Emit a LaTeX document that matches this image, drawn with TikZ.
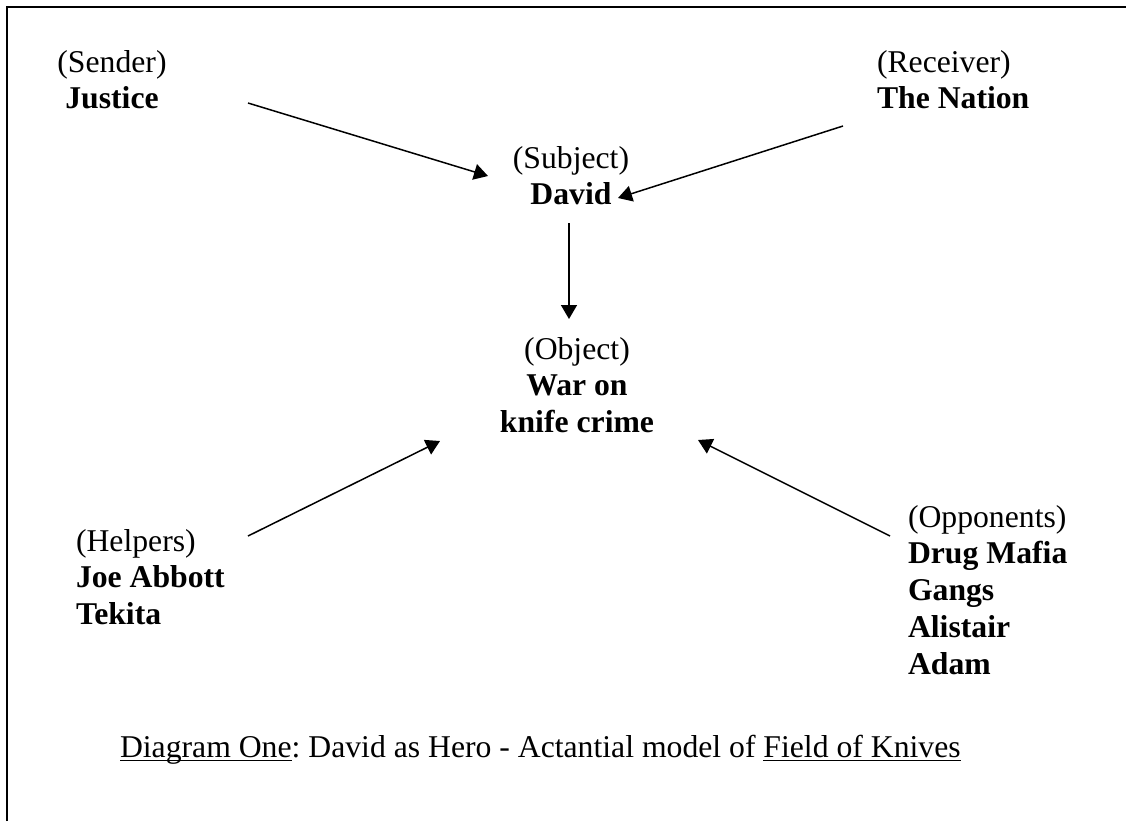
\documentclass[tikz,border=0pt]{standalone}
\usepackage{fontspec}
\setmainfont{Liberation Serif}
\usetikzlibrary{arrows.meta}
\frenchspacing
\newcommand{\blockL}[1]{\begin{tabular}[t]{@{}l@{}}#1\end{tabular}}
\newcommand{\blockC}[1]{\begin{tabular}[t]{@{}c@{}}#1\end{tabular}}
\newcommand{\ulText}[1]{\setbox0\hbox{#1}\rlap{\rule[-2.2pt]{\wd0}{0.9pt}}\box0}
\begin{document}
\begin{tikzpicture}[x=0.5pt,y=-0.5pt,
  txt/.style={inner sep=0pt, outer sep=0pt, font=\fontsize{15.85}{18.4}\selectfont},
  arr/.style={line width=0.75pt, -{Triangle[length=7pt,width=8pt]}}]
\useasboundingbox (0,0) rectangle (1126,821);
\draw[line width=1pt] (7,821) -- (7,6.5) -- (1126,6.5);

\node[txt, anchor=base] (sender) at (112,72) {\blockC{(Sender)\\\textbf{Justice}}};
\node[txt, anchor=base west] (receiver) at (877,72) {\blockL{(Receiver)\\\textbf{The Nation}}};
\node[txt, anchor=base] (subject) at (571,168) {\blockC{(Subject)\\\textbf{David}}};
\node[txt, anchor=base] (object) at (577,359) {\blockC{(Object)\\\textbf{War on}\\\textbf{knife crime}}};
\node[txt, anchor=base west] (helpers) at (76,551) {\blockL{(Helpers)\\\textbf{Joe Abbott}\\\textbf{Tekita}}};
\node[txt, anchor=base west] (opponents) at (908,527) {\blockL{(Opponents)\\\textbf{Drug Mafia}\\\textbf{Gangs}\\\textbf{Alistair}\\\textbf{Adam}}};
\node[txt, anchor=base west] (caption) at (120,757) {\ulText{Diagram One}: David as Hero - Actantial model of \ulText{Field of Knives}};

\coordinate (a1s) at (248,103); \coordinate (a1e) at (488,176);
\coordinate (a2s) at (843,126); \coordinate (a2e) at (618,198);
\coordinate (a3s) at (569,223); \coordinate (a3e) at (569,319);
\coordinate (a4s) at (248,536); \coordinate (a4e) at (440,441);
\coordinate (a5s) at (890,536); \coordinate (a5e) at (698,440);

\draw[arr] (a1s) -- (a1e);
\draw[arr] (a2s) -- (a2e);
\draw[arr] (a3s) -- (a3e);
\draw[arr] (a4s) -- (a4e);
\draw[arr] (a5s) -- (a5e);
\end{tikzpicture}
\end{document}
